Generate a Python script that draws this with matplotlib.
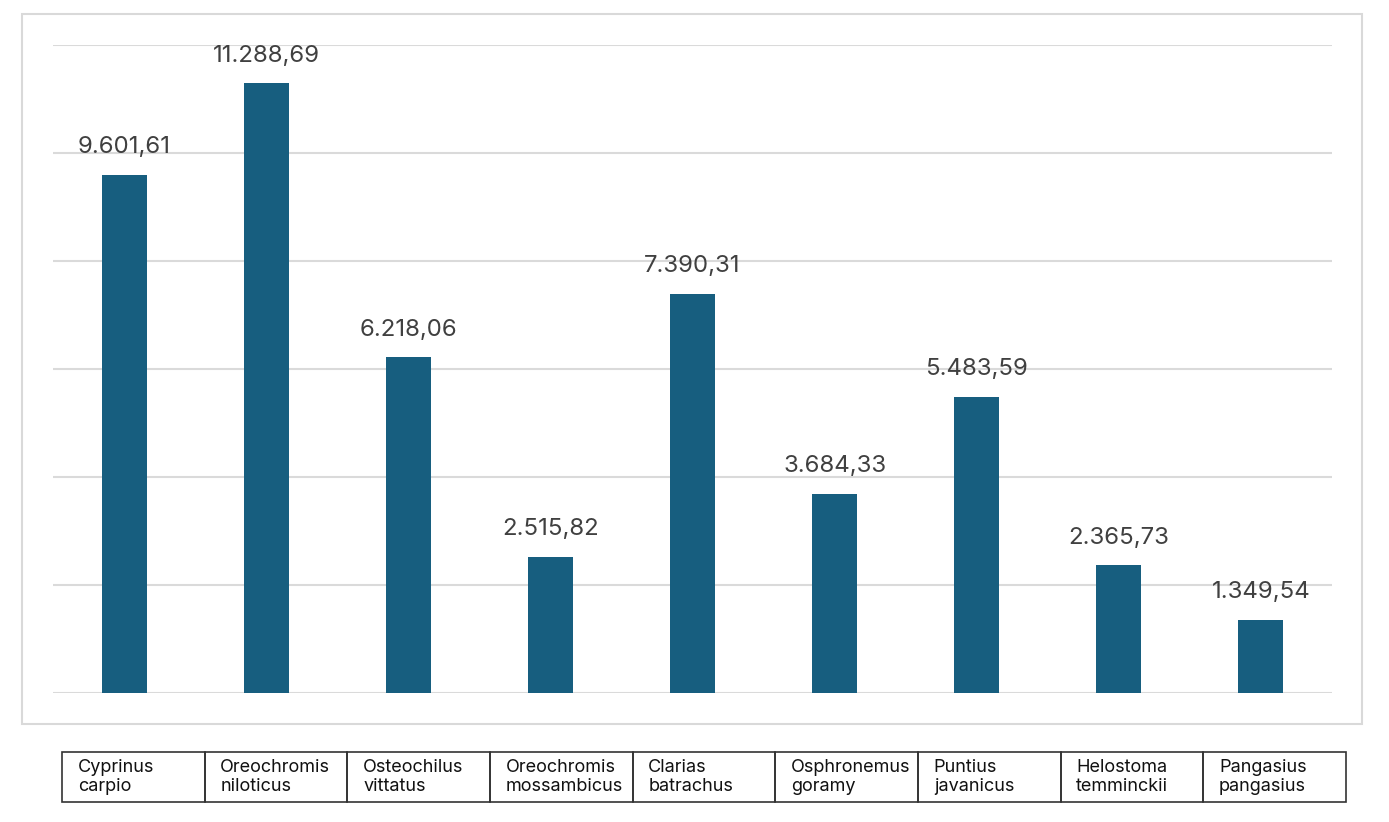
import matplotlib
matplotlib.use("Agg")
import matplotlib.pyplot as plt
from matplotlib.patches import Rectangle

categories = ["Cyprinus\ncarpio", "Oreochromis\nniloticus", "Osteochilus\nvittatus",
              "Oreochromis\nmossambicus", "Clarias\nbatrachus", "Osphronemus\ngoramy",
              "Puntius\njavanicus", "Helostoma\ntemminckii", "Pangasius\npangasius"]
values = [9601.61, 11288.69, 6218.06, 2515.82, 7390.31, 3684.33, 5483.59, 2365.73, 1349.54]
value_labels = ["9.601,61", "11.288,69", "6.218,06", "2.515,82", "7.390,31",
                "3.684,33", "5.483,59", "2.365,73", "1.349,54"]
y_ticks = [0, 2000, 4000, 6000, 8000, 10000, 12000]

W, H = 1389, 822
fig = plt.figure(figsize=(W / 100, H / 100), dpi=100)
fig.patch.set_facecolor("white")
plt.rcParams["font.family"] = ["Inter", "DejaVu Sans"]

def fx(px):
    return px / W

def fy(py):
    return 1 - py / H

# outer chart border
fig.patches.append(Rectangle((fx(22), fy(724)), fx(1362) - fx(22), fy(14) - fy(724),
                             transform=fig.transFigure, fill=False,
                             edgecolor="#d9d9d9", linewidth=1.5, zorder=0))

ax = fig.add_axes([fx(53), fy(693), fx(1332) - fx(53), fy(45) - fy(693)])
x = list(range(len(values)))
ax.bar(x, values, width=0.317, color="#175e7f", zorder=3)
ax.set_xlim(-0.5, len(values) - 0.5)
ax.set_ylim(0, 12000)
ax.set_yticks(y_ticks)
ax.yaxis.grid(True, color="#dadada", linewidth=1.5, zorder=0)
ax.set_axisbelow(True)
ax.tick_params(left=False, bottom=False, labelleft=False, labelbottom=False)
for s in ax.spines.values():
    s.set_visible(False)
for xi, v, lab in zip(x, values, value_labels):
    ax.annotate(lab, (xi, v), xytext=(0, 12), textcoords="offset points",
                ha="center", va="bottom", fontsize=17.3, color="#404040")

# category table
tax = fig.add_axes([fx(62), fy(802), fx(1346) - fx(62), fy(752) - fy(802)])
tax.set_xlim(0, len(categories))
tax.set_ylim(0, 1)
tax.axis("off")
for i, c in enumerate(categories):
    tax.add_patch(Rectangle((i, 0), 1, 1, fill=False, edgecolor="#333333",
                            linewidth=1.2, clip_on=False))
    tax.text(i + 0.11, 0.5, c, ha="left", va="center", fontsize=13,
             color="#111111", linespacing=1.2)

fig.savefig("out.png", dpi=100, facecolor="white")
